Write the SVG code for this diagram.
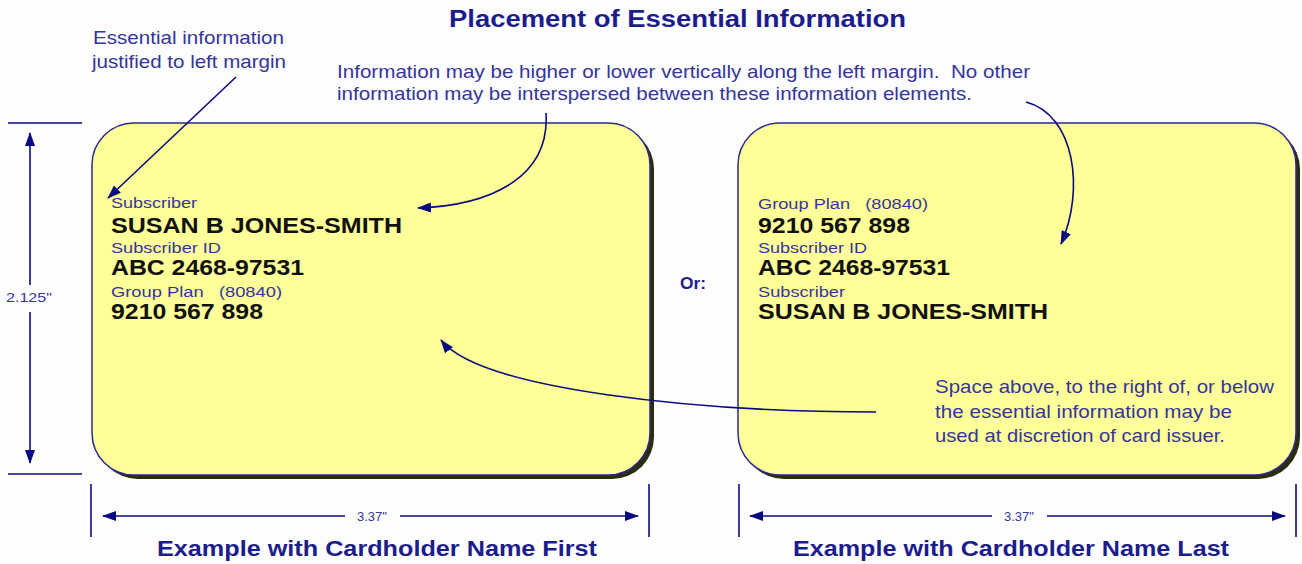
<svg xmlns="http://www.w3.org/2000/svg" width="1302" height="564" viewBox="0 0 1302 564">
<defs>
<marker id="ah" viewBox="0 0 14 10" refX="13" refY="5" markerWidth="14" markerHeight="10" markerUnits="userSpaceOnUse" orient="auto">
<path d="M0,0 L14,5 L0,10 z" fill="#0a0a80"/>
</marker>
<style>
.ann{font-family:"Liberation Sans",Arial,sans-serif;font-size:19px;fill:#35359a}
.lbl{font-family:"Liberation Sans",Arial,sans-serif;font-size:15.5px;fill:#35359a}
.val{font-family:"Liberation Sans",Arial,sans-serif;font-size:22.5px;font-weight:bold;fill:#111}
.ttl{font-family:"Liberation Sans",Arial,sans-serif;font-weight:bold;fill:#1c1c8c}
.dim{font-family:"Liberation Sans",Arial,sans-serif;font-size:13px;fill:#35359a}
.card{fill:#ffff99;stroke:#2a2a90;stroke-width:1.5}
.shadow{fill:#2b2b10}
.ln{stroke:#0a0a80;stroke-width:1.6;fill:none}
.arr{stroke:#0a0a80;stroke-width:1.6;fill:none;marker-end:url(#ah)}
</style>
</defs>
<rect width="1302" height="564" fill="#fdfdfd"/>

<g id="title">
<text class="ttl" x="449" y="27" font-size="23" textLength="457" lengthAdjust="spacingAndGlyphs">Placement of Essential Information</text>
</g>

<g id="note-left-margin">
<text class="ann" x="93" y="44" textLength="191" lengthAdjust="spacingAndGlyphs">Essential information</text>
<text class="ann" x="92" y="68" textLength="194" lengthAdjust="spacingAndGlyphs">justified to left margin</text>
</g>

<g id="note-vertical">
<text class="ann" x="337" y="78" textLength="693" lengthAdjust="spacingAndGlyphs" xml:space="preserve">Information may be higher or lower vertically along the left margin.  No other</text>
<text class="ann" x="337" y="100" textLength="635" lengthAdjust="spacingAndGlyphs">information may be interspersed between these information elements.</text>
</g>

<g id="card-first">
<rect class="shadow" x="96" y="127" width="558" height="352" rx="42"/>
<rect class="card" x="92" y="123" width="558" height="352" rx="42"/>
<text class="lbl" x="111" y="208" textLength="86" lengthAdjust="spacingAndGlyphs">Subscriber</text>
<text class="val" x="111" y="233" textLength="291" lengthAdjust="spacingAndGlyphs">SUSAN B JONES-SMITH</text>
<text class="lbl" x="111" y="253" textLength="110" lengthAdjust="spacingAndGlyphs">Subscriber ID</text>
<text class="val" x="111" y="275" textLength="193" lengthAdjust="spacingAndGlyphs">ABC 2468-97531</text>
<text class="lbl" x="111" y="297" textLength="171" lengthAdjust="spacingAndGlyphs" xml:space="preserve">Group Plan   (80840)</text>
<text class="val" x="111" y="319" textLength="152" lengthAdjust="spacingAndGlyphs">9210 567 898</text>
</g>

<g id="or-label">
<text class="ttl" x="680" y="289" font-size="17" textLength="26" lengthAdjust="spacingAndGlyphs">Or:</text>
</g>

<g id="card-last">
<rect class="shadow" x="742" y="127" width="558" height="352" rx="42"/>
<rect class="card" x="738" y="123" width="558" height="352" rx="42"/>
<text class="lbl" x="758" y="209" textLength="170" lengthAdjust="spacingAndGlyphs" xml:space="preserve">Group Plan   (80840)</text>
<text class="val" x="758" y="233" textLength="152" lengthAdjust="spacingAndGlyphs">9210 567 898</text>
<text class="lbl" x="758" y="253" textLength="109" lengthAdjust="spacingAndGlyphs">Subscriber ID</text>
<text class="val" x="758" y="275" textLength="192" lengthAdjust="spacingAndGlyphs">ABC 2468-97531</text>
<text class="lbl" x="758" y="297" textLength="87" lengthAdjust="spacingAndGlyphs">Subscriber</text>
<text class="val" x="758" y="319" textLength="290" lengthAdjust="spacingAndGlyphs">SUSAN B JONES-SMITH</text>
<text class="ann" x="935" y="393" textLength="339" lengthAdjust="spacingAndGlyphs">Space above, to the right of, or below</text>
<text class="ann" x="935" y="418" textLength="297" lengthAdjust="spacingAndGlyphs">the essential information may be</text>
<text class="ann" x="935" y="442" textLength="290" lengthAdjust="spacingAndGlyphs">used at discretion of card issuer.</text>
</g>

<g id="dim-height">
<line class="ln" x1="8" y1="123" x2="82" y2="123"/>
<line class="ln" x1="8" y1="474" x2="82" y2="474"/>
<line class="arr" x1="30" y1="285" x2="30" y2="133"/>
<line class="arr" x1="30" y1="312" x2="30" y2="463"/>
<text class="dim" x="6" y="302" font-size="15" textLength="46" lengthAdjust="spacingAndGlyphs">2.125"</text>
</g>

<g id="dim-width-first">
<line class="ln" x1="91" y1="484" x2="91" y2="537"/>
<line class="ln" x1="649" y1="484" x2="649" y2="537"/>
<line class="arr" x1="345" y1="516" x2="103" y2="516"/>
<line class="arr" x1="400" y1="516" x2="638" y2="516"/>
<text class="dim" x="372" y="521" text-anchor="middle">3.37"</text>
<text class="ttl" x="157" y="556" font-size="22" textLength="440" lengthAdjust="spacingAndGlyphs">Example with Cardholder Name First</text>
</g>

<g id="dim-width-last">
<line class="ln" x1="739" y1="484" x2="739" y2="537"/>
<line class="ln" x1="1296" y1="484" x2="1296" y2="537"/>
<line class="arr" x1="992" y1="516" x2="750" y2="516"/>
<line class="arr" x1="1047" y1="516" x2="1285" y2="516"/>
<text class="dim" x="1019" y="521" text-anchor="middle">3.37"</text>
<text class="ttl" x="793" y="556" font-size="22" textLength="436" lengthAdjust="spacingAndGlyphs">Example with Cardholder Name Last</text>
</g>

<g id="connectors">
<line class="arr" x1="236" y1="77" x2="108" y2="198"/>
<path class="arr" d="M546,113 C550,175 495,205 418,208"/>
<path class="arr" d="M1026,102 C1075,115 1085,190 1061,244"/>
<path class="arr" d="M876,412 C700,412 480,390 441,340"/>
</g>
</svg>
